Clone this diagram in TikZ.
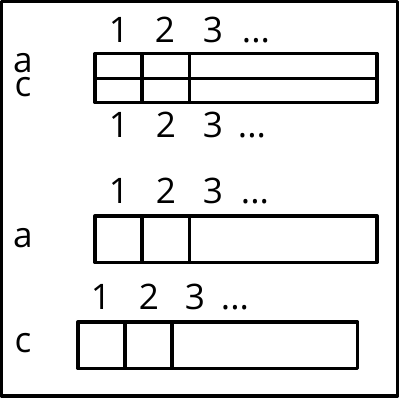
\documentclass[tikz,border=0pt]{standalone}
\usepackage{fontspec}
\setmainfont{Open Sans}
\begin{document}
\begin{tikzpicture}[x=0.25mm, y=-0.25mm,
    lbl/.style={font=\fontsize{25}{25}\selectfont, inner sep=0pt, anchor=base},
    blk/.style={line width=2.4pt, line join=round}]
    \useasboundingbox (0,0) rectangle (400,400);

    \def\Xa{95};   % left of the upper blocks
    \def\Xb{78};   % left of the lowest block
    \def\Xr{377};  % right of the upper blocks

    % frame
    \draw[blk] (1.5,1.5) rectangle (397.5,396);

    % double block a/c
    \draw[blk] (\Xa,53.5) rectangle (\Xr,102.5);
    \draw[blk] (\Xa,78.5) -- (\Xr,78.5);
    \draw[blk] (142,53.5) -- (142,102.5);
    \draw[blk] (189.5,53.5) -- (189.5,102.5);
    \node[lbl] (ta) at (23,72) {a};
    \node[lbl] (tc) at (23,96.5) {c};

    % numbers above
    \node[lbl] (t1) at (119,42) {1};
    \node[lbl] (t2) at (165,42) {2};
    \node[lbl] (t3) at (213,42) {3};
    \node[lbl] (td) at (256,42) {...};

    % numbers below
    \node[lbl] (b1) at (119,137) {1};
    \node[lbl] (b2) at (166,137) {2};
    \node[lbl] (b3) at (213,137) {3};
    \node[lbl] (bd) at (252,137) {...};

    % block a
    \draw[blk] (\Xa,216) rectangle (\Xr,262.5);
    \draw[blk] (142,216) -- (142,262.5);
    \draw[blk] (189.5,216) -- (189.5,262.5);
    \node[lbl] (la) at (23,247) {a};
    \node[lbl] (a1) at (119,203) {1};
    \node[lbl] (a2) at (166,203) {2};
    \node[lbl] (a3) at (213,203) {3};
    \node[lbl] (ad) at (255,203) {...};

    % block c
    \draw[blk] (\Xb,322) rectangle (357.5,368.5);
    \draw[blk] (125,322) -- (125,368.5);
    \draw[blk] (172,322) -- (172,368.5);
    \node[lbl] (lc) at (23,352) {c};
    \node[lbl] (c1) at (101,309) {1};
    \node[lbl] (c2) at (149,309) {2};
    \node[lbl] (c3) at (195,309) {3};
    \node[lbl] (cd) at (235,309) {...};
\end{tikzpicture}
\end{document}
